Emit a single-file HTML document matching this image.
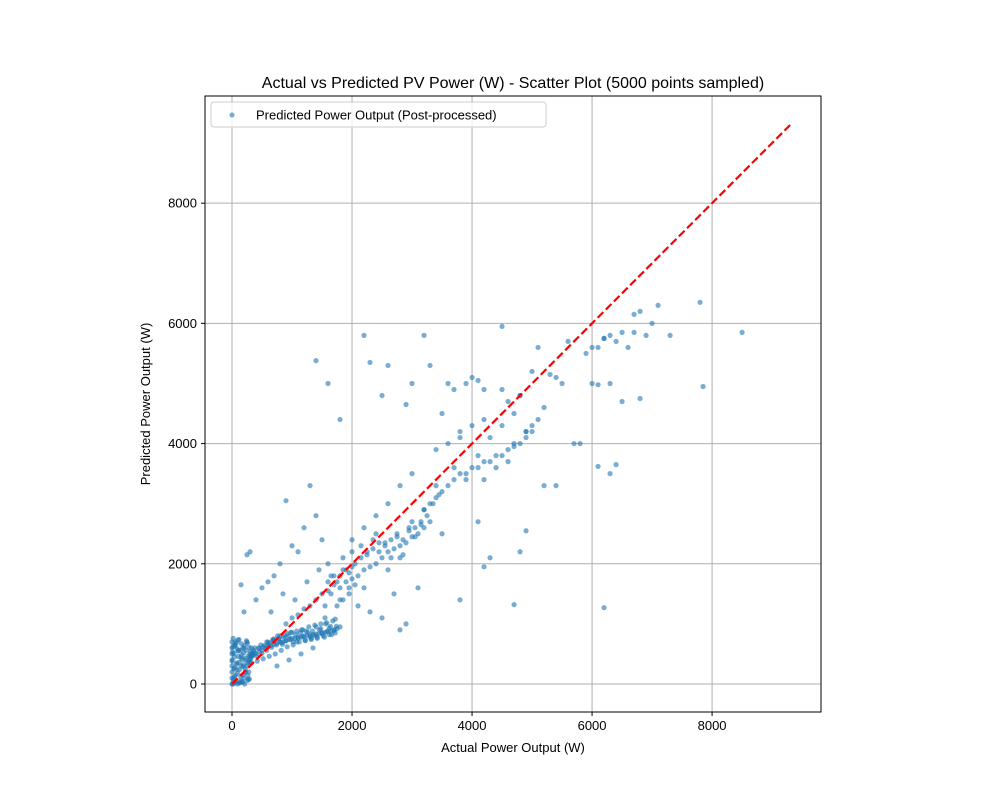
<!DOCTYPE html>
<html><head><meta charset="utf-8"><style>
body{margin:0;background:#fff;}
svg{font-family:"Liberation Sans","DejaVu Sans",sans-serif;}
</style></head><body>
<svg id="chart" width="1000" height="800">
<rect width="1000" height="800" fill="#fff"/>
<text x="513" y="88" font-size="16" text-anchor="middle">Actual vs Predicted PV Power (W) - Scatter Plot (5000 points sampled)</text>
<g id="grid"></g><g id="pts"></g><g id="line"></g>
<rect x="205" y="96" width="616" height="616" fill="none" stroke="#000" stroke-width="1"/>
<g id="ticks"></g>
<text x="513" y="752" font-size="13" text-anchor="middle">Actual Power Output (W)</text>
<text x="150" y="404" font-size="13" text-anchor="middle" transform="rotate(-90 150 404)">Predicted Power Output (W)</text>
<g>
<rect x="211" y="102" width="335" height="25" rx="3" fill="#fff" fill-opacity="0.8" stroke="#ccc"/>
<circle cx="232" cy="115" r="2.5" fill="#1f77b4" fill-opacity="0.6"/>
<text x="256" y="119.5" font-size="13">Predicted Power Output (Post-processed)</text>
</g>
</svg>
<script>
const xTicks=[0,2000,4000,6000,8000];
const yTicks=[0,2000,4000,6000,8000];
const diagonal=[0,9300];
const actualW=[
0,0,0,0,0,0,0,0,20,30,40,50,60,80,100,120,150,180,200,220,250,280,300,10,30,60,90,130,170,210,260,290,40,80,120,160,200,240,280,20,70,110,150,190,230,270,10,50,100,140,180,220,260,300,
300,350,400,450,500,550,600,650,700,750,800,850,900,950,1000,1050,1100,1150,1200,1250,1300,1350,1400,1450,1500,1550,1600,1650,1700,1750,1800,320,420,520,620,720,820,920,1020,1120,1220,1320,1420,1520,1620,1720,380,480,580,680,780,880,980,1080,1180,1280,1380,1480,1580,1680,
600,700,800,900,1000,1100,1200,1300,1400,1500,1600,1700,1800,1900,2000,650,850,1050,1250,1450,1650,1850,750,950,1150,1350,1550,1750,1950,
150,250,300,500,700,800,1000,1100,1200,1400,1500,1600,1700,200,400,600,900,1300,1400,1600,1800,2200,2300,2500,2600,
1800,1900,2000,2100,2200,2300,2400,2500,2600,2700,2800,2900,3000,3100,3200,1850,1950,2050,2150,2250,2350,2450,2550,2650,2750,2850,2950,3050,3150,2000,2200,2400,2600,2800,3000,2100,2300,2500,2700,2900,
3200,3300,3400,3500,3600,3700,3800,3900,4000,4100,4200,4300,4400,4500,4600,4700,4800,4900,5000,3300,3500,3700,3900,4100,4300,4500,4700,4900,3400,3600,3800,4000,4200,4400,4600,4800,5000,5100,5200,
3000,3200,3500,3600,3700,3900,4000,4100,4200,4500,4600,4800,5000,5100,5300,5400,5500,3300,2900,3800,4200,4500,4700,4900,5200,
2800,3100,3800,4300,4700,4800,4900,5400,6200,6100,6300,6400,4200,4100,
5600,5800,5900,6000,6100,6200,6300,6400,6500,6600,6700,6800,6900,7000,7100,7300,7800,8500,7850,6500,6000,6100,6800,5700,6300,6700,6200,
5,15,25,35,45,55,65,75,85,95,105,115,125,135,145,155,165,175,185,195,205,215,225,235,245,255,265,275,285,295,305,315,325,335,345,
340,380,420,460,500,540,580,620,660,700,740,780,820,860,900,940,980,1020,1060,1100,1140,1180,1220,1260,1300,1340,1380,1420,1460,1500,1540,1580,1620,1660,1700,1740,
360,440,520,600,680,760,840,920,1000,1080,1160,1240,1320,1400,1480,1560,1640,1720,
1550,1650,1750,1850,1950,2050,2150,2250,2350,2450,2550,2650,2750,2850,2950,3050,3150,3250,3350,3450,1600,1800,2000,2200,2400,2600,2800,3000,3200,3400];
const predictedW=[
0,100,200,300,400,500,600,700,50,250,450,650,150,350,550,20,300,600,100,400,700,200,500,0,10,30,0,20,40,0,60,80,120,240,360,480,600,720,380,760,680,560,440,320,200,80,530,630,730,50,150,250,350,450,
420,480,500,540,560,600,620,640,660,680,700,700,720,740,760,760,780,780,800,800,820,820,830,840,850,860,880,880,900,920,950,350,380,420,460,500,560,620,650,700,720,760,780,800,820,850,600,650,700,720,760,800,860,880,900,950,980,1000,1020,1050,
650,750,800,1000,1100,1150,1250,1300,1400,1500,1550,1650,1800,1900,1950,1200,1500,1400,1700,1900,1800,2100,300,400,500,600,1100,1300,1600,
1650,2150,2200,1600,1800,2000,2300,2200,2600,5380,2400,2000,1800,1200,1400,1700,3050,3300,2800,5000,4400,5800,5350,4800,5300,
1600,1700,1750,1800,1900,1950,2000,2100,2200,2250,2300,2350,2450,2500,2600,1400,1500,1650,2100,2200,2250,2350,2300,2400,2450,2150,2550,2600,2650,2400,2600,2800,3000,3300,3500,1300,1200,1100,1500,1000,
2900,3000,3100,3200,3300,3400,3500,3500,3600,3600,3700,3700,3800,3800,3900,3950,4000,4100,4200,2700,2500,3600,3400,3800,4100,4300,4500,4200,3900,4000,4200,4300,3400,3600,3700,4800,4300,4400,4600,
5000,5800,4500,5000,4900,5000,5100,5050,4900,5950,4700,4800,5200,5600,5150,5100,5000,5300,4650,4100,4400,4900,4000,4200,3300,
900,1600,1400,2100,1320,2200,2550,3300,1270,3620,3500,3650,1950,2700,
5700,4000,5500,5000,5600,5750,5800,5700,5850,5600,6150,6200,5800,6000,6300,5800,6350,5850,4950,4700,5600,4980,4750,4000,5000,5850,5750,
380,620,90,510,270,700,40,330,590,180,460,740,240,560,120,670,410,30,290,520,640,190,430,560,300,680,140,470,610,360,540,420,600,480,520,
470,520,460,590,510,640,560,680,610,720,650,750,690,780,720,800,740,700,820,760,850,790,730,860,790,880,810,760,900,840,780,870,930,820,890,960,
560,600,620,700,740,800,660,840,860,700,900,880,740,950,920,1000,960,1080,
1300,1500,1700,1900,1850,2000,2300,2150,2400,2200,2350,2100,2500,2400,2600,2450,2700,2800,3000,3150,1700,1400,2200,1600,2500,1900,2100,2700,2900,3300];
const NS="http://www.w3.org/2000/svg";
const X0=205,X1=821,Y0=712,Y1=96,xmin=-450,xmax=9815,ymin=-466,ymax=9783;
function sx(v){return X0+(v-xmin)/(xmax-xmin)*(X1-X0);}
function sy(v){return Y0-(v-ymin)/(ymax-ymin)*(Y0-Y1);}
function mk(t,a,p){const e=document.createElementNS(NS,t);for(const k in a)e.setAttribute(k,a[k]);p.appendChild(e);return e;}
const grid=document.getElementById('grid'),ticks=document.getElementById('ticks');
xTicks.forEach(v=>{
 const g=mk('line',{x1:sx(v),x2:sx(v),y1:Y1,y2:Y0,stroke:'#b0b0b0','stroke-width':1},grid);
 
 
 mk('line',{x1:sx(v),x2:sx(v),y1:Y0,y2:Y0+4,stroke:'#000'},ticks);
 const t=mk('text',{x:sx(v),y:Y0+18,'font-size':13,'text-anchor':'middle'},ticks);t.textContent=v;
 
 
});
yTicks.forEach(v=>{
 const g=mk('line',{x1:X0,x2:X1,y1:sy(v),y2:sy(v),stroke:'#b0b0b0','stroke-width':1},grid);
 
 
 mk('line',{x1:X0-4,x2:X0,y1:sy(v),y2:sy(v),stroke:'#000'},ticks);
 const t=mk('text',{x:X0-8,y:sy(v)+4.5,'font-size':13,'text-anchor':'end'},ticks);t.textContent=v;
 
 
});
const pts=document.getElementById('pts');
actualW.forEach((a,i)=>{
 const c=mk('circle',{cx:sx(a),cy:sy(predictedW[i]),r:2.6,fill:'#1f77b4','fill-opacity':0.6},pts);
 
 
});
const l=mk('line',{x1:sx(diagonal[0]),y1:sy(diagonal[0]),x2:sx(diagonal[1]),y2:sy(diagonal[1]),stroke:'#ff0000','stroke-width':2.2,'stroke-dasharray':'8,3.5'},document.getElementById('line'));


</script>
</body></html>
